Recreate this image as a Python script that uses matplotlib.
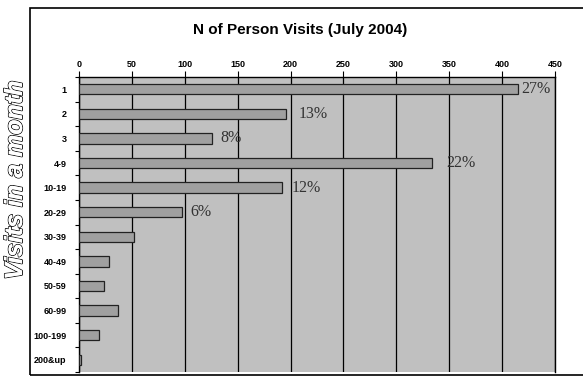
import matplotlib.pyplot as plt
import matplotlib.patheffects as pe
from matplotlib.patches import Rectangle
import numpy as np

categories = ['1', '2', '3', '4-9', '10-19', '20-29', '30-39', '40-49',
              '50-59', '60-99', '100-199', '200&up']
visits = [415, 196, 126, 334, 192, 97, 52, 28, 24, 37, 19, 1.5]
pct_labels = ['27%', '13%', '8%', '22%', '12%', '6%']
pct_gap = [2, 9, 6, 10, 7, 6]  # label offsets from bar end, in points

fig = plt.figure(figsize=(5.83, 3.79), dpi=100)
ax = fig.add_axes([79 / 583, 7 / 379, 476 / 583, 295 / 379])

# outer chart border
fig.patches.append(Rectangle((30 / 583, 4 / 379), 560 / 583, 367 / 379,
                             transform=fig.transFigure, fill=False,
                             edgecolor='black', lw=1.2))

y = np.arange(len(categories))
ax.set_facecolor('#c0c0c0')
ax.barh(y, visits, height=0.42, color='#a0a0a0', edgecolor='#222222', lw=0.9, zorder=3)

for i, lab in enumerate(pct_labels):
    ax.annotate(lab, (visits[i], y[i]), xytext=(pct_gap[i], 0), textcoords='offset points',
                va='center', ha='left', family='Liberation Serif', fontsize=11.5,
                color='#333333', zorder=4)

ax.set_xlim(0, 450)
ax.set_ylim(len(categories) - 0.5, -0.5)
ax.xaxis.tick_top()
ax.set_xticks(range(0, 451, 50))
ax.tick_params(axis='x', length=4, width=0.8, pad=2, labelsize=6.5)
for t in ax.get_xticklabels():
    t.set_fontweight('bold')
    t.set_family('Liberation Sans')
ax.grid(axis='x', color='black', lw=0.9, zorder=1)

ax.set_yticks(y)
ax.set_yticklabels(categories, fontsize=6.5, fontweight='bold', family='Liberation Sans')
ax.set_yticks(np.arange(-0.5, len(categories), 1), minor=True)
ax.tick_params(axis='y', which='major', length=0, pad=9)
ax.tick_params(axis='y', which='minor', length=3, width=0.8)
for s in ax.spines.values():
    s.set_linewidth(1)
ax.spines['bottom'].set_visible(False)

fig.text(300 / 583, 1 - 30 / 379, 'N of Person Visits (July 2004)', ha='center', va='center',
         fontsize=11, fontweight='bold', family='Liberation Sans')

fig.text(15 / 583, 1 - 180 / 379, 'Visits in a month', rotation=90, ha='center', va='center',
         fontsize=18, fontweight='bold', style='italic', family='Liberation Sans', color='white',
         path_effects=[pe.withStroke(linewidth=1.2, foreground='black'), pe.Normal()])

fig.savefig('out.png', dpi=100)
